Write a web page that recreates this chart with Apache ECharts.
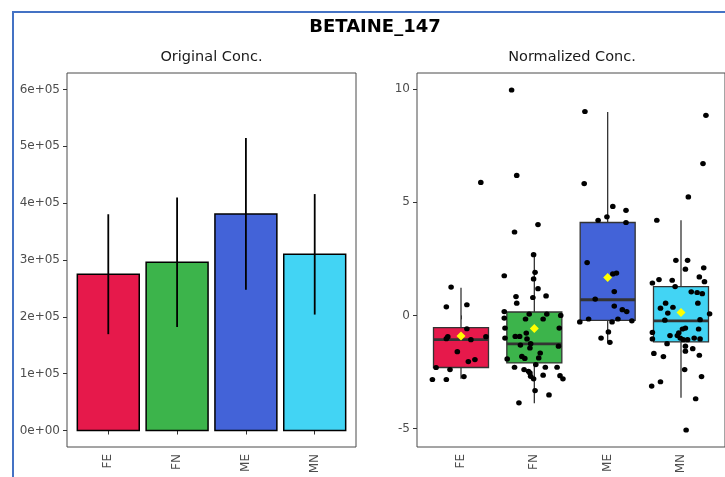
<!DOCTYPE html>
<html>
<head>
<meta charset="utf-8">
<script src="https://cdn.jsdelivr.net/npm/echarts@6/dist/echarts.min.js"></script>
<style>
  html, body { margin: 0; padding: 0; background: #ffffff; }
  #chart { width: 725px; height: 477px; }
</style>
</head>
<body>
<div id="chart"></div>
<script>
// ---- data ----
const chartTitle = 'BETAINE_147';
const leftTitle = 'Original Conc.';
const rightTitle = 'Normalized Conc.';
const groups = ['FE', 'FN', 'ME', 'MN'];
const groupColors = ['#e6194b', '#3cb44b', '#4363d8', '#42d4f4'];

// original concentration: group mean and standard deviation
const origMean = [275000, 296000, 381000, 310000];
const origSd = [105500, 114000, 133500, 106000];
const origTicks = [0, 100000, 200000, 300000, 400000, 500000, 600000];

// normalized concentration: box statistics [low whisker, Q1, median, Q3, high whisker]
const boxFE = [-2.80, -2.30, -1.07, -0.54, 1.22];
const boxFN = [-3.88, -2.10, -1.26, 0.15, 2.68];
const boxME = [-1.17, -0.22, 0.69, 4.10, 8.98];
const boxMN = [-3.64, -1.17, -0.24, 1.27, 4.20];
const groupMeans = [-0.91, -0.58, 1.67, 0.13];
const normTicks = [-5, 0, 5, 10];

// individual samples: [jitter offset in category units, normalized value]
const ptsFE = [[0.27, 5.87], [-0.135, 1.25], [-0.2, 0.38], [0.08, 0.47], [0.08, -0.59], [-0.18, -0.94],
  [-0.2, -1.03], [0.135, -1.07], [0.34, -0.94], [-0.05, -1.6], [0.19, -1.95], [0.1, -2.04],
  [-0.34, -2.3], [-0.15, -2.39], [-0.39, -2.83], [-0.2, -2.83], [0.04, -2.7]];
const ptsFN = [[-0.31, 9.95], [-0.24, 6.18], [-0.27, 3.68], [0.05, 4.01], [-0.01, 2.68], [-0.41, 1.75],
  [0.01, 1.90], [-0.01, 1.61], [0.05, 1.18], [-0.25, 0.83], [-0.24, 0.54], [-0.02, 0.79], [0.16, 0.86],
  [-0.41, 0.17], [-0.41, -0.12], [-0.07, 0.06], [-0.12, -0.16], [0.17, 0.06], [0.12, -0.16], [0.36, 0.0],
  [0.34, -0.56], [-0.40, -0.56], [-0.40, -1.0], [-0.26, -0.93], [-0.20, -0.93], [-0.11, -0.78],
  [-0.19, -1.31], [-0.05, -1.25], [-0.06, -1.44], [0.33, -1.36], [0.08, -1.66], [0.06, -1.88],
  [-0.37, -1.92], [-0.17, -1.81], [-0.13, -1.90], [-0.27, -2.29], [-0.14, -2.39], [-0.08, -2.47],
  [0.02, -2.17], [0.15, -2.29], [0.31, -2.29], [0.35, -2.66], [0.39, -2.80], [-0.06, -2.54],
  [-0.05, -2.69], [-0.01, -2.80], [0.12, -2.64], [0.01, -3.32], [0.20, -3.51], [-0.21, -3.86],
  [-0.10, -1.04]];
const ptsME = [[-0.31, 9.0], [-0.32, 5.82], [0.07, 4.81], [0.25, 4.64], [-0.01, 4.35], [-0.13, 4.2],
  [0.25, 4.1], [-0.28, 2.33], [0.12, 1.87], [0.07, 1.83], [0.09, 1.05], [-0.17, 0.72], [0.09, 0.41],
  [0.2, 0.25], [0.26, 0.17], [-0.38, -0.29], [-0.26, -0.16], [0.06, -0.29], [0.14, -0.16],
  [0.33, -0.24], [0.01, -0.73], [-0.09, -1.0], [0.03, -1.19]];
const ptsMN = [[0.34, 8.83], [0.30, 6.70], [0.10, 5.23], [-0.33, 4.20], [-0.07, 2.43], [0.09, 2.43],
  [0.06, 2.04], [0.31, 2.10], [-0.39, 1.43], [-0.30, 1.58], [-0.12, 1.55], [-0.08, 1.27], [0.25, 1.70],
  [0.32, 1.49], [0.14, 1.04], [0.22, 1.01], [0.29, 0.96], [0.23, 0.54], [-0.21, 0.54], [-0.28, 0.32],
  [-0.11, 0.36], [-0.18, 0.10], [-0.22, -0.21], [0.39, 0.07], [0.26, -0.19], [-0.39, -0.75],
  [-0.39, -1.04], [-0.15, -0.89], [-0.03, -0.77], [0.02, -0.60], [0.06, -0.56], [-0.05, -0.89],
  [-0.01, -1.0], [0.03, -1.07], [0.09, -1.07], [0.18, -1.0], [0.26, -1.04], [0.24, -0.60],
  [-0.19, -1.25], [0.06, -1.36], [0.06, -1.58], [0.16, -1.47], [-0.37, -1.68], [-0.24, -1.82],
  [0.25, -1.76], [0.05, -2.39], [0.28, -2.70], [-0.40, -3.12], [-0.28, -2.93], [0.20, -3.68],
  [0.07, -5.06]];

const boxStats = [boxFE, boxFN, boxME, boxMN];
const groupPoints = [ptsFE, ptsFN, ptsME, ptsMN];

// ---- helpers ----
const FONT = '"DejaVu Sans", "Liberation Sans", Arial, sans-serif';
const LABEL_COLOR = '#4d4d4d';

function sciLabel(v) {
  if (v === 0) return '0e+00';
  const e = Math.floor(Math.log10(Math.abs(v)));
  const m = +(v / Math.pow(10, e)).toFixed(3);
  const ae = Math.abs(e);
  return m + 'e' + (e < 0 ? '-' : '+') + (ae < 10 ? '0' + ae : ae);
}

function catAxis(gridIndex) {
  const pos = groups.map((g, i) => i + 1);
  return {
    type: 'value', gridIndex, min: 0.4, max: 4.6,
    splitLine: { show: false },
    axisLine: { show: false },
    axisTick: { show: true, customValues: pos, length: 4, lineStyle: { color: '#333333', width: 1 } },
    axisLabel: {
      customValues: pos, rotate: 90, margin: 7,
      color: LABEL_COLOR, fontSize: 12, fontFamily: FONT,
      formatter: v => groups[Math.round(v) - 1] || ''
    }
  };
}

function valAxis(gridIndex, min, max, ticks, fmt) {
  return {
    type: 'value', gridIndex, min, max,
    splitLine: { show: false },
    axisLine: { show: false },
    axisTick: { show: true, customValues: ticks, length: 4, lineStyle: { color: '#333333', width: 1 } },
    axisLabel: { customValues: ticks, margin: 7, color: LABEL_COLOR, fontSize: 12, fontFamily: FONT, formatter: fmt }
  };
}

// ---- chart ----
const chart = echarts.init(document.getElementById('chart'), null, { renderer: 'canvas' });

const option = {
  backgroundColor: '#ffffff',
  animation: false,
  grid: [
    { left: 67, top: 73, width: 289, height: 374, show: true, borderColor: '#4a4a4a', borderWidth: 1, backgroundColor: 'transparent' },
    { left: 417, top: 73, width: 311, height: 374, show: true, borderColor: '#4a4a4a', borderWidth: 1, backgroundColor: 'transparent' }
  ],
  xAxis: [catAxis(0), catAxis(1)],
  yAxis: [
    valAxis(0, -29000, 629000, origTicks, sciLabel),
    valAxis(1, -5.81, 10.70, normTicks, v => String(Math.round(v)))
  ],
  graphic: [
    { type: 'rect', silent: true, z: 100,
      shape: { x: 13, y: 12, width: 780, height: 520 },
      style: { fill: 'none', stroke: '#4472c4', lineWidth: 2 } },
    { type: 'text', silent: true, x: 375, y: 27,
      style: { text: chartTitle, font: 'bold 18px ' + FONT, fill: '#000000', align: 'center', verticalAlign: 'middle' } },
    { type: 'text', silent: true, x: 211.5, y: 57,
      style: { text: leftTitle, font: '14.5px ' + FONT, fill: '#1a1a1a', align: 'center', verticalAlign: 'middle' } },
    { type: 'text', silent: true, x: 572, y: 57,
      style: { text: rightTitle, font: '14.5px ' + FONT, fill: '#1a1a1a', align: 'center', verticalAlign: 'middle' } }
  ],
  series: [
    // bars of mean original concentration
    {
      type: 'custom', xAxisIndex: 0, yAxisIndex: 0, z: 2,
      data: groups.map((g, i) => [i + 1, origMean[i]]),
      encode: { x: 0, y: 1 },
      renderItem(params, api) {
        const x = api.value(0), m = api.value(1);
        const w = api.size([0.9, 0])[0];
        const top = api.coord([x, m]);
        const base = api.coord([x, 0]);
        return {
          type: 'rect',
          shape: { x: top[0] - w / 2, y: top[1], width: w, height: base[1] - top[1] },
          style: { fill: groupColors[params.dataIndex], stroke: '#000000', lineWidth: 1.5 }
        };
      }
    },
    // mean +/- sd error bars
    {
      type: 'custom', xAxisIndex: 0, yAxisIndex: 0, z: 3,
      data: groups.map((g, i) => [i + 1, origMean[i] - origSd[i], origMean[i] + origSd[i]]),
      encode: { x: 0, y: [1, 2] },
      renderItem(params, api) {
        const x = api.value(0);
        const lo = api.coord([x, api.value(1)]);
        const hi = api.coord([x, api.value(2)]);
        return {
          type: 'line',
          shape: { x1: lo[0], y1: lo[1], x2: hi[0], y2: hi[1] },
          style: { stroke: '#000000', lineWidth: 1.8 }
        };
      }
    },
    // box plots of normalized concentration
    {
      type: 'custom', xAxisIndex: 1, yAxisIndex: 1, z: 2,
      data: boxStats.map((s, i) => [i + 1].concat(s)),
      encode: { x: 0, y: [1, 2, 3, 4, 5] },
      renderItem(params, api) {
        const x = api.value(0);
        const w = api.size([0.75, 0])[0];
        const pLo = api.coord([x, api.value(1)]);
        const pQ1 = api.coord([x, api.value(2)]);
        const pMed = api.coord([x, api.value(3)]);
        const pQ3 = api.coord([x, api.value(4)]);
        const pHi = api.coord([x, api.value(5)]);
        const cx = pQ1[0];
        const edge = '#333333';
        return {
          type: 'group',
          children: [
            { type: 'line', shape: { x1: cx, y1: pHi[1], x2: cx, y2: pQ3[1] }, style: { stroke: edge, lineWidth: 1.3 } },
            { type: 'line', shape: { x1: cx, y1: pQ1[1], x2: cx, y2: pLo[1] }, style: { stroke: edge, lineWidth: 1.3 } },
            { type: 'rect', shape: { x: cx - w / 2, y: pQ3[1], width: w, height: pQ1[1] - pQ3[1] },
              style: { fill: groupColors[params.dataIndex], stroke: edge, lineWidth: 1.3 } },
            { type: 'line', shape: { x1: cx - w / 2, y1: pMed[1], x2: cx + w / 2, y2: pMed[1] },
              style: { stroke: edge, lineWidth: 2.8 } }
          ]
        };
      }
    },
    // jittered samples
    {
      type: 'scatter', xAxisIndex: 1, yAxisIndex: 1, z: 4,
      symbol: 'circle', symbolSize: [5.6, 5.2],
      itemStyle: { color: '#000000', opacity: 1 },
      data: groupPoints.flatMap((pts, i) => pts.map(p => [i + 1 + p[0], p[1]]))
    },
    // group means
    {
      type: 'scatter', xAxisIndex: 1, yAxisIndex: 1, z: 5,
      symbol: 'diamond', symbolSize: [9, 9],
      itemStyle: { color: '#ffff00', opacity: 1 },
      data: groupMeans.map((m, i) => [i + 1, m])
    }
  ]
};

chart.setOption(option);
</script>
</body>
</html>
